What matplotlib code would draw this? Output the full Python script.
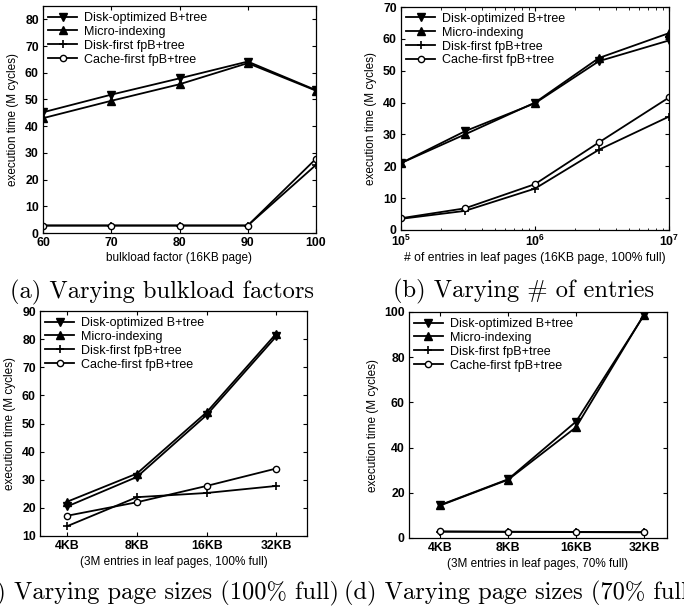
import matplotlib
matplotlib.use("Agg")
import matplotlib.pyplot as plt
import numpy as np

plt.rcParams['font.family'] = ['Liberation Sans', 'DejaVu Sans']
plt.rcParams['mathtext.fontset'] = 'custom'
plt.rcParams['mathtext.rm'] = 'Liberation Sans'
plt.rcParams['mathtext.bf'] = 'Liberation Sans:bold'

series_names = ["Disk-optimized B+tree", "Micro-indexing",
                "Disk-first fpB+tree", "Cache-first fpB+tree"]

# (a) bulkload factors
a_x = [60, 70, 80, 90, 100]
a_disk_opt = [45.2, 51.8, 57.9, 64.2, 53.5]
a_micro = [43.0, 49.5, 55.7, 63.6, 53.3]
a_disk_first = [2.8, 2.8, 2.8, 2.8, 25.5]
a_cache_first = [2.8, 2.8, 2.8, 2.8, 27.8]

# (b) number of entries
b_x = [1e5, 3e5, 1e6, 3e6, 1e7]
b_disk_opt = [21.0, 31.0, 39.8, 53.0, 59.5]
b_micro = [21.0, 30.0, 40.0, 54.0, 61.8]
b_disk_first = [3.5, 6.0, 13.0, 25.2, 35.6]
b_cache_first = [3.7, 6.8, 14.4, 27.5, 41.6]

# (c) page sizes, 100% full
page_labels = ["4KB", "8KB", "16KB", "32KB"]
c_disk_opt = [20.5, 31.0, 53.0, 81.0]
c_micro = [22.2, 32.2, 54.0, 82.0]
c_disk_first = [13.5, 23.8, 25.3, 27.8]
c_cache_first = [17.2, 22.0, 27.8, 34.0]

# (d) page sizes, 70% full
d_disk_opt = [14.6, 26.0, 51.5, 98.5]
d_micro = [14.4, 25.8, 49.0, 98.8]
d_disk_first = [2.8, 2.7, 2.6, 2.5]
d_cache_first = [2.9, 2.8, 2.7, 2.6]

captions = ["(a) Varying bulkload factors", "(b) Varying # of entries",
            "(c) Varying page sizes (100% full)", "(d) Varying page sizes (70% full)"]

W, H = 684, 606
fig = plt.figure(figsize=(W / 100, H / 100), dpi=100)

def ax_at(l, r, t, b):
    return fig.add_axes([l / W, 1 - b / H, (r - l) / W, (b - t) / H])

styles = [dict(marker='v', mfc='black', ms=5.5),
          dict(marker='^', mfc='black', ms=5.5),
          dict(marker='+', mfc='black', ms=6, mew=1.2),
          dict(marker='o', mfc='white', ms=4.5, mew=1.0)]

def bold_ticks(ax):
    for lab in ax.get_xticklabels() + ax.get_yticklabels():
        lab.set_fontweight('bold')

def draw(ax, x, ys):
    for y, st, name in zip(ys, styles, series_names):
        ax.plot(x, y, color='black', lw=1.3, mec='black', label=name, **st)
    ax.tick_params(direction='in', top=True, right=True, labelsize=8.8,
                   length=3, width=0.8, pad=3)
    for s in ax.spines.values():
        s.set_linewidth(0.9)
    ax.set_ylabel("execution time (M cycles)", fontsize=8.5, labelpad=4)
    ax.legend(loc='upper left', bbox_to_anchor=(0.01, 0.985), frameon=False,
              fontsize=9, handlelength=2.3, handletextpad=0.6,
              labelspacing=0.15, borderaxespad=0.0, borderpad=0.2)

# (a)
axa = ax_at(43, 316, 6, 233)
draw(axa, a_x, [a_disk_opt, a_micro, a_disk_first, a_cache_first])
axa.set_xlim(60, 100)
axa.set_ylim(0, 85)
axa.set_xticks([60, 70, 80, 90, 100])
axa.set_yticks(range(0, 81, 10))
axa.set_xlabel("bulkload factor (16KB page)", fontsize=8.5, labelpad=2)
bold_ticks(axa)

# (b)
axb = ax_at(401, 669, 7, 230)
axb.set_xscale('log')
draw(axb, b_x, [b_disk_opt, b_micro, b_disk_first, b_cache_first])
axb.set_xlim(1e5, 1e7)
axb.set_ylim(0, 70)
axb.set_yticks(range(0, 71, 10))
axb.set_xlabel("# of entries in leaf pages (16KB page, 100% full)", fontsize=8.7, labelpad=2)
axb.tick_params(which='minor', direction='in', top=True, length=1.8)
bold_ticks(axb)

# (c)
pos = np.arange(1, len(page_labels) + 1)
axc = ax_at(40, 307, 311, 536)
draw(axc, pos, [c_disk_opt, c_micro, c_disk_first, c_cache_first])
axc.set_xlim(0.61, 4.44)
axc.set_ylim(10, 90)
axc.set_xticks(pos)
axc.set_xticklabels(page_labels)
axc.set_yticks(range(10, 91, 10))
axc.set_xlabel("(3M entries in leaf pages, 100% full)", fontsize=8.5, labelpad=3)
bold_ticks(axc)

# (d)
axd = ax_at(409, 667, 312, 538)
draw(axd, pos, [d_disk_opt, d_micro, d_disk_first, d_cache_first])
axd.set_xlim(0.54, 4.34)
axd.set_ylim(0, 100)
axd.set_xticks(pos)
axd.set_xticklabels(page_labels)
axd.set_yticks(range(0, 101, 20))
axd.set_xlabel("(3M entries in leaf pages, 70% full)", fontsize=8.5, labelpad=3)
bold_ticks(axd)

cap = dict(family='cmr10', fontsize=17.6, va='center')
fig.text(162 / W, 1 - 292 / H, captions[0], ha='center', **cap)
fig.text(524 / W, 1 - 291 / H, captions[1], ha='center', **cap)
fig.text(339 / W, 1 - 593 / H, captions[2], ha='right', **cap)
fig.text(344 / W, 1 - 593 / H, captions[3], ha='left', **cap)

fig.savefig("out.png", dpi=100)
